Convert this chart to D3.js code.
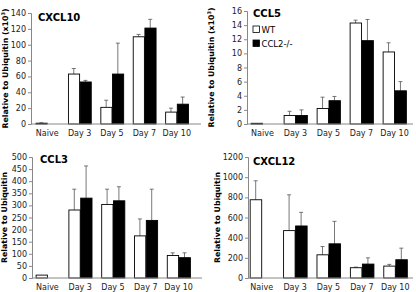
<!DOCTYPE html>
<html>
<head>
<meta charset="utf-8">
<script src="https://cdn.jsdelivr.net/npm/d3@7"></script>
<style>
  body { margin: 0; background: #fff; }
  svg { display: block; font-family: "DejaVu Sans", Verdana, sans-serif; }
</style>
</head>
<body>
<script>
// categories shared by all four panels
const days = ["Naive", "Day 3", "Day 5", "Day 7", "Day 10"]

// CXCL10 (x10^3)
const cxcl10WT = [1, 63, 21, 110, 15]
const cxcl10WTErr = [0.5, 7, 9, 3, 5]
const cxcl10KO = [null, 53, 63, 121, 25]
const cxcl10KOErr = [null, 2, 39, 11, 9]

// CCL5 (x10^3)
const ccl5WT = [0.1, 1.2, 2.2, 14.3, 10.2]
const ccl5WTErr = [0, 0.6, 1.6, 0.4, 1.3]
const ccl5KO = [null, 1.2, 3.3, 11.8, 4.7]
const ccl5KOErr = [null, 0.8, 0.6, 3.0, 1.3]

// CCL3
const ccl3WT = [12, 281, 304, 174, 93]
const ccl3WTErr = [0, 86, 63, 70, 11]
const ccl3KO = [null, 330, 319, 238, 84]
const ccl3KOErr = [null, 133, 58, 129, 20]

// CXCL12
const cxcl12WT = [776, 470, 230, 102, 118]
const cxcl12WTErr = [188, 355, 82, 6, 17]
const cxcl12KO = [null, 516, 339, 138, 181]
const cxcl12KOErr = [null, 135, 223, 62, 115]

const series = ["WT", "CCL2-/-"]

const svg = d3.select("body").append("svg")
    .attr("width", 416)
    .attr("height", 292)

const panels = [
  { title: "CXCL10", wt: cxcl10WT, wtErr: cxcl10WTErr, ko: cxcl10KO, koErr: cxcl10KOErr,
    max: 140, step: 20, left: 31, right: 201, band: [31, 193], y: [124, 13],
    tx: 38, ty: 21, sup: true, ytx: 8, legend: false },
  { title: "CCL5", wt: ccl5WT, wtErr: ccl5WTErr, ko: ccl5KO, koErr: ccl5KOErr,
    max: 16, step: 2, left: 247, right: 413, band: [246, 411], y: [124, 11],
    tx: 253, ty: 17, sup: true, ytx: 214, legend: true },
  { title: "CCL3", wt: ccl3WT, wtErr: ccl3WTErr, ko: ccl3KO, koErr: ccl3KOErr,
    max: 500, step: 50, left: 32, right: 202, band: [31, 195], y: [278, 157],
    tx: 40, ty: 163, sup: false, ytx: 7, legend: false },
  { title: "CXCL12", wt: cxcl12WT, wtErr: cxcl12WTErr, ko: cxcl12KO, koErr: cxcl12KOErr,
    max: 1200, step: 200, left: 248, right: 413, band: [245, 412], y: [278, 157],
    tx: 253, ty: 165, sup: false, ytx: 220, legend: false }
]

panels.forEach(function(p) {
  const g = svg.append("g")

  const x = d3.scaleBand().domain(days).range(p.band).paddingInner(0.28).paddingOuter(0.14)
  const xs = d3.scaleBand().domain(series).range([0, x.bandwidth()])
  const y = d3.scaleLinear().domain([0, p.max]).range(p.y)

  const rows = []
  days.forEach(function(d, i) {
    rows.push({ day: d, s: "WT", v: p.wt[i], e: p.wtErr[i] })
    rows.push({ day: d, s: "CCL2-/-", v: p.ko[i], e: p.koErr[i] })
  })
  const bars = rows.filter(function(r) { return r.v != null })

  // error bars (drawn first, only upward)
  const eb = g.selectAll(".err").data(bars.filter(function(r) { return r.e > 0 }))
    .enter().append("g")
  eb.append("line")
      .attr("x1", function(r) { return x(r.day) + xs(r.s) + xs.bandwidth() / 2 })
      .attr("x2", function(r) { return x(r.day) + xs(r.s) + xs.bandwidth() / 2 })
      .attr("y1", function(r) { return y(r.v) })
      .attr("y2", function(r) { return y(r.v + r.e) })
      .attr("stroke", "#555").attr("stroke-width", 0.8)
  eb.append("line")
      .attr("x1", function(r) { return x(r.day) + xs(r.s) + xs.bandwidth() / 2 - 2 })
      .attr("x2", function(r) { return x(r.day) + xs(r.s) + xs.bandwidth() / 2 + 2 })
      .attr("y1", function(r) { return y(r.v + r.e) })
      .attr("y2", function(r) { return y(r.v + r.e) })
      .attr("stroke", "#555").attr("stroke-width", 0.8)

  g.selectAll(".bar").data(bars).enter().append("rect")
      .attr("x", function(r) { return x(r.day) + xs(r.s) + 0.5 })
      .attr("y", function(r) { return y(r.v) })
      .attr("width", xs.bandwidth() - 0.5)
      .attr("height", function(r) { return Math.max(0.8, y(0) - y(r.v)) })
      .attr("fill", function(r) { return r.s === "WT" ? "#fff" : "#000" })
      .attr("stroke", "#000").attr("stroke-width", 0.9)

  // y axis
  const yAxis = g.append("g")
      .attr("transform", "translate(" + p.left + ",0)")
      .call(d3.axisLeft(y)
        .tickValues(d3.range(0, p.max + p.step / 2, p.step))
        .tickFormat(d3.format("d"))
        .tickSize(3).tickPadding(2))
  yAxis.select(".domain").attr("stroke", "#888")
  yAxis.selectAll(".tick line").attr("stroke", "#888")
  yAxis.selectAll("text").attr("font-size", 8).attr("fill", "#222")
      .attr("font-family", "DejaVu Sans, sans-serif")

  // x axis
  g.append("line")
      .attr("x1", p.left).attr("x2", p.right)
      .attr("y1", y(0)).attr("y2", y(0))
      .attr("stroke", "#888")
  g.selectAll(".xl").data(days).enter().append("text")
      .attr("x", function(d) { return x(d) + x.bandwidth() / 2 })
      .attr("y", y(0) + 12)
      .attr("text-anchor", "middle")
      .attr("font-size", 8).attr("fill", "#222")
      .text(function(d) { return d })

  // panel title
  g.append("text")
      .attr("x", p.tx).attr("y", p.ty)
      .attr("font-size", 10).attr("font-weight", "bold")
      .text(p.title)

  // y axis title
  const mid = (p.y[0] + p.y[1]) / 2
  const yt = g.append("text")
      .attr("transform", "translate(" + p.ytx + "," + mid + ") rotate(-90)")
      .attr("text-anchor", "middle")
      .attr("font-size", 7.8).attr("font-weight", "bold")
  yt.append("tspan").text(p.sup ? "Relative to Ubiquitin (x10" : "Relative to Ubiquitin")
  if (p.sup) {
    yt.append("tspan").attr("font-size", 5).attr("dy", -3).text("3")
    yt.append("tspan").attr("dy", 3).text(")")
  }

  if (p.legend) {
    const lg = g.append("g").attr("transform", "translate(253,26)")
    series.forEach(function(s, i) {
      lg.append("rect")
          .attr("x", 0).attr("y", i * 14)
          .attr("width", 6.5).attr("height", 6.5)
          .attr("fill", s === "WT" ? "#fff" : "#000")
          .attr("stroke", "#000").attr("stroke-width", 0.8)
      lg.append("text")
          .attr("x", 8.5).attr("y", i * 14 + 6.5)
          .attr("font-size", 8.5)
          .text(s)
    })
  }
})
</script>
</body>
</html>
